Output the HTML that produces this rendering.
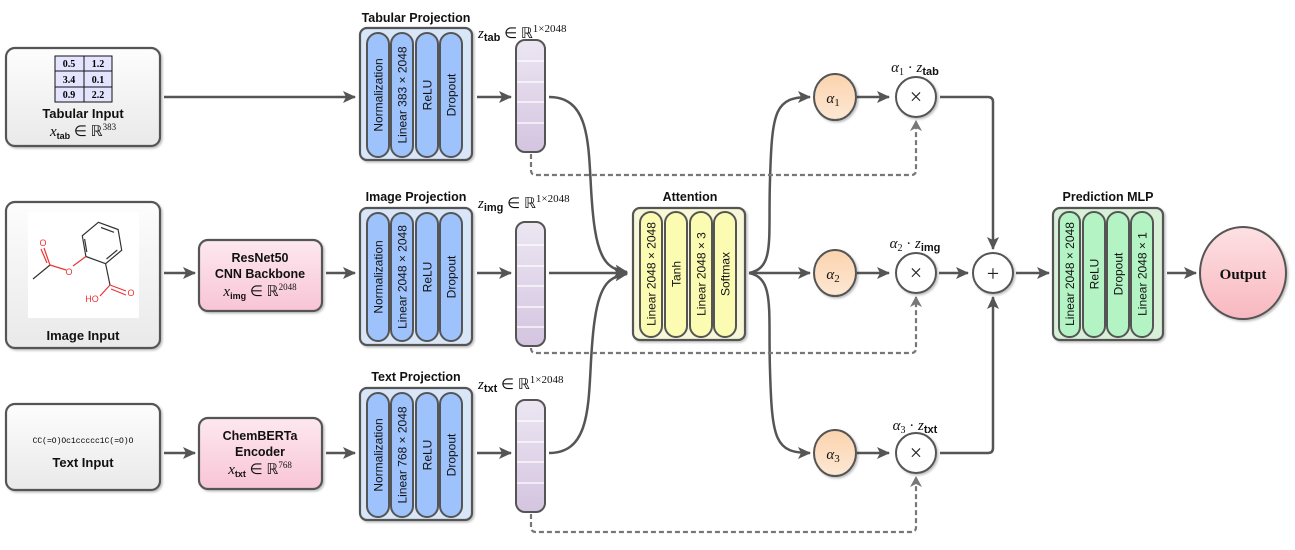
<!DOCTYPE html>
<html><head><meta charset="utf-8"><style>
html,body{margin:0;padding:0;background:#fff;}
svg{display:block;font-family:"Liberation Sans",sans-serif;}
.t{font-size:12.5px;font-weight:bold;text-anchor:middle;fill:#111}
.pl{font-size:12px;text-anchor:middle;fill:#111}
.m{font-family:"Liberation Serif",serif;font-size:15px;fill:#111}
</style></head><body>
<svg width="1295" height="550" viewBox="0 0 1295 550" xmlns="http://www.w3.org/2000/svg">
<defs>
<marker id="ah" markerWidth="14" markerHeight="12" refX="12" refY="6" orient="auto" markerUnits="userSpaceOnUse"><path d="M0,0 L13,6 L0,12 L3,6 Z" fill="#555"/></marker>
<marker id="ad" markerWidth="12" markerHeight="12" refX="10" refY="6" orient="auto" markerUnits="userSpaceOnUse"><path d="M0,0 L11,6 L0,12 L3,6 Z" fill="#777"/></marker>
<linearGradient id="gIn" x1="0" y1="0" x2="0" y2="1"><stop offset="0" stop-color="#fdfdfd"/><stop offset="1" stop-color="#e9e9e9"/></linearGradient>
<linearGradient id="gPk" x1="0" y1="0" x2="0" y2="1"><stop offset="0" stop-color="#fde8ef"/><stop offset="1" stop-color="#f8c4d6"/></linearGradient>
<linearGradient id="gV" x1="0" y1="0" x2="0" y2="1"><stop offset="0" stop-color="#ece6f2"/><stop offset="1" stop-color="#d4c4e0"/></linearGradient>
<linearGradient id="gO" x1="0" y1="0" x2="0" y2="1"><stop offset="0" stop-color="#fbd3ae"/><stop offset="1" stop-color="#fde8d4"/></linearGradient>
<linearGradient id="gOut" x1="0" y1="0" x2="0" y2="1"><stop offset="0" stop-color="#fde0e3"/><stop offset="1" stop-color="#f8b8bf"/></linearGradient>
<filter id="sh" x="-10%" y="-10%" width="130%" height="130%"><feDropShadow dx="1.5" dy="1.5" stdDeviation="1" flood-color="#000" flood-opacity="0.25"/></filter>
</defs>

<g stroke="#555" stroke-width="2.2" fill="none">
<rect x="6" y="48" width="154" height="98" rx="9" fill="url(#gIn)" filter="url(#sh)"/>
<rect x="6" y="202" width="154" height="146" rx="9" fill="url(#gIn)" filter="url(#sh)"/>
<rect x="6" y="404" width="154" height="86" rx="9" fill="url(#gIn)" filter="url(#sh)"/>
<rect x="199" y="240" width="123" height="71" rx="9" fill="url(#gPk)" filter="url(#sh)"/>
<rect x="199" y="418" width="123" height="71" rx="9" fill="url(#gPk)" filter="url(#sh)"/>
</g>
<rect x="28" y="212" width="111" height="106" fill="#fff"/>
<g font-family="Liberation Serif,serif" font-size="10" font-weight="bold" text-anchor="middle">
<rect x="55" y="56" width="57" height="46" fill="#e4e4ff" stroke="#111" stroke-width="1"/>
<line x1="55" y1="71" x2="112" y2="71" stroke="#111"/><line x1="55" y1="87" x2="112" y2="87" stroke="#111"/>
<line x1="84" y1="56" x2="84" y2="102" stroke="#111"/>
<text x="69" y="67">0.5</text><text x="98" y="67">1.2</text>
<text x="69" y="83">3.4</text><text x="98" y="83">0.1</text>
<text x="69" y="98">0.9</text><text x="98" y="98">2.2</text>
</g>
<text x="83" y="118" class="t" style="font-size:13px">Tabular Input</text>
<text x="83" y="136" class="m" text-anchor="middle" font-style="italic">x<tspan font-family="Liberation Sans" font-size="9" font-weight="bold" font-style="normal" dy="3">tab</tspan><tspan dy="-3" font-style="normal"> ∈ ℝ</tspan><tspan font-size="9" dy="-6" font-style="normal">383</tspan></text>
<!-- molecule -->
<g stroke="#333" stroke-width="1.2" fill="none">
<polygon points="98.4,222.3 118.1,229.5 121.7,250.2 105.6,263.7 85.9,256.5 82.3,235.8"/>
<line x1="101" y1="227.5" x2="114" y2="232.3"/><line x1="117.3" y1="250" x2="106.5" y2="259"/><line x1="86.8" y1="252" x2="84.6" y2="239"/>
<line x1="105.6" y1="263.7" x2="110" y2="285"/>
<line x1="50" y1="265" x2="33" y2="279"/>
</g>
<g stroke="#e33" stroke-width="1.2" fill="none">
<line x1="85.9" y1="256.5" x2="73" y2="266"/><line x1="66" y1="270" x2="50" y2="265"/>
<line x1="50" y1="265" x2="44" y2="248"/><line x1="47" y1="263" x2="41" y2="249"/>
<line x1="110" y1="285" x2="126" y2="291"/><line x1="111" y1="289" x2="126" y2="295"/>
<line x1="110" y1="285" x2="100" y2="296"/>
</g>
<g font-size="9" fill="#e33" text-anchor="middle"><text x="69" y="275">O</text><text x="43" y="246">O</text><text x="131" y="296">O</text><text x="92" y="302">HO</text></g>
<text x="83" y="340" class="t" style="font-size:13px">Image Input</text>
<text x="83" y="443" font-family="Liberation Mono,monospace" font-size="8" text-anchor="middle">CC(=O)Oc1ccccc1C(=O)O</text>
<text x="83" y="467" class="t" style="font-size:13px">Text Input</text>
<text x="260" y="262" class="t">ResNet50</text>
<text x="260" y="278" class="t">CNN Backbone</text>
<text x="260" y="296" class="m" text-anchor="middle" font-style="italic" font-size="13">x<tspan font-family="Liberation Sans" font-size="9" font-weight="bold" font-style="normal" dy="3">img</tspan><tspan dy="-3" font-style="normal"> ∈ ℝ</tspan><tspan font-size="9" dy="-6" font-style="normal">2048</tspan></text>
<text x="260" y="440" class="t">ChemBERTa</text>
<text x="260" y="456" class="t">Encoder</text>
<text x="260" y="474" class="m" text-anchor="middle" font-style="italic" font-size="13">x<tspan font-family="Liberation Sans" font-size="9" font-weight="bold" font-style="normal" dy="3">txt</tspan><tspan dy="-3" font-style="normal"> ∈ ℝ</tspan><tspan font-size="9" dy="-6" font-style="normal">768</tspan></text>

<g stroke="#555" stroke-width="2.2">
<rect x="360" y="28" width="112" height="132" rx="7" fill="#d8e6f8" filter="url(#sh)"/>
<rect x="360" y="208" width="112" height="137" rx="7" fill="#d8e6f8" filter="url(#sh)"/>
<rect x="360" y="388" width="112" height="132" rx="7" fill="#d8e6f8" filter="url(#sh)"/>
<rect x="633" y="208" width="112" height="132" rx="7" fill="#f8f8d8" filter="url(#sh)"/>
<rect x="1053" y="208" width="110" height="132" rx="7" fill="#d8f0d8" filter="url(#sh)"/>
</g>
<g stroke="#555" stroke-width="2" fill="#9ec2fb">
<rect x="367" y="33" width="22" height="124" rx="11"/><rect x="391" y="33" width="22" height="124" rx="11"/><rect x="416" y="33" width="22" height="124" rx="11"/><rect x="440" y="33" width="22" height="124" rx="11"/>
<rect x="367" y="213" width="22" height="128" rx="11"/><rect x="391" y="213" width="22" height="128" rx="11"/><rect x="416" y="213" width="22" height="128" rx="11"/><rect x="440" y="213" width="22" height="128" rx="11"/>
<rect x="367" y="393" width="22" height="124" rx="11"/><rect x="391" y="393" width="22" height="124" rx="11"/><rect x="416" y="393" width="22" height="124" rx="11"/><rect x="440" y="393" width="22" height="124" rx="11"/>
</g>
<g stroke="#555" stroke-width="2" fill="#fbfbb2">
<rect x="640" y="212" width="22" height="125" rx="11"/><rect x="665" y="212" width="22" height="125" rx="11"/><rect x="690" y="212" width="22" height="125" rx="11"/><rect x="714" y="212" width="22" height="125" rx="11"/>
</g>
<g stroke="#555" stroke-width="2" fill="#b4f4c4">
<rect x="1059" y="212" width="21" height="125" rx="10"/><rect x="1083" y="212" width="22" height="125" rx="11"/><rect x="1107" y="212" width="22" height="125" rx="11"/><rect x="1131" y="212" width="22" height="125" rx="11"/>
</g>
<g class="pl">
<text transform="translate(382.5,95) rotate(-90)">Normalization</text>
<text transform="translate(406.5,95) rotate(-90)">Linear 383 × 2048</text>
<text transform="translate(431.5,95) rotate(-90)">ReLU</text>
<text transform="translate(455.5,95) rotate(-90)">Dropout</text>
<text transform="translate(382.5,277) rotate(-90)">Normalization</text>
<text transform="translate(406.5,277) rotate(-90)">Linear 2048 × 2048</text>
<text transform="translate(431.5,277) rotate(-90)">ReLU</text>
<text transform="translate(455.5,277) rotate(-90)">Dropout</text>
<text transform="translate(382.5,455) rotate(-90)">Normalization</text>
<text transform="translate(406.5,455) rotate(-90)">Linear 768 × 2048</text>
<text transform="translate(431.5,455) rotate(-90)">ReLU</text>
<text transform="translate(455.5,455) rotate(-90)">Dropout</text>
<text transform="translate(655.5,274) rotate(-90)">Linear 2048 × 2048</text>
<text transform="translate(680.5,274) rotate(-90)">Tanh</text>
<text transform="translate(705.5,274) rotate(-90)">Linear 2048 × 3</text>
<text transform="translate(729.5,274) rotate(-90)">Softmax</text>
<text transform="translate(1074,274) rotate(-90)">Linear 2048 × 2048</text>
<text transform="translate(1098.5,274) rotate(-90)">ReLU</text>
<text transform="translate(1122.5,274) rotate(-90)">Dropout</text>
<text transform="translate(1146.5,274) rotate(-90)">Linear 2048 × 1</text>
</g>
<text x="416" y="22" class="t">Tabular Projection</text>
<text x="416" y="201" class="t">Image Projection</text>
<text x="416" y="381" class="t">Text Projection</text>
<text x="690" y="201" class="t">Attention</text>
<text x="1108" y="201" class="t">Prediction MLP</text>

<g stroke="#555" stroke-width="2" fill="url(#gV)">
<rect x="516" y="40" width="29" height="112" rx="9"/>
<rect x="516" y="222" width="29" height="124" rx="9"/>
<rect x="516" y="400" width="29" height="112" rx="9"/>
</g>
<g stroke="#fff" stroke-width="1.2">
<line x1="517" y1="61" x2="544" y2="61"/><line x1="517" y1="82" x2="544" y2="82"/><line x1="517" y1="102" x2="544" y2="102"/><line x1="517" y1="123" x2="544" y2="123"/>
<line x1="517" y1="245" x2="544" y2="245"/><line x1="517" y1="266" x2="544" y2="266"/><line x1="517" y1="286" x2="544" y2="286"/><line x1="517" y1="307" x2="544" y2="307"/><line x1="517" y1="327" x2="544" y2="327"/>
<line x1="517" y1="421" x2="544" y2="421"/><line x1="517" y1="442" x2="544" y2="442"/><line x1="517" y1="462" x2="544" y2="462"/><line x1="517" y1="483" x2="544" y2="483"/>
</g>
<g class="m" font-style="italic" font-size="16">
<text x="478" y="38">z<tspan font-family="Liberation Sans" font-size="11" font-weight="bold" font-style="normal" dy="3">tab</tspan><tspan dy="-3" font-style="normal"> ∈ ℝ</tspan><tspan font-size="11" dy="-6" font-style="normal">1×2048</tspan></text>
<text x="478" y="208">z<tspan font-family="Liberation Sans" font-size="11" font-weight="bold" font-style="normal" dy="3">img</tspan><tspan dy="-3" font-style="normal"> ∈ ℝ</tspan><tspan font-size="11" dy="-6" font-style="normal">1×2048</tspan></text>
<text x="478" y="389">z<tspan font-family="Liberation Sans" font-size="11" font-weight="bold" font-style="normal" dy="3">txt</tspan><tspan dy="-3" font-style="normal"> ∈ ℝ</tspan><tspan font-size="11" dy="-6" font-style="normal">1×2048</tspan></text>
</g>

<g stroke="#555" stroke-width="2.5" fill="none" marker-end="url(#ah)">
<line x1="164" y1="97" x2="355" y2="97"/>
<line x1="164" y1="273" x2="195" y2="273"/>
<line x1="326" y1="273" x2="355" y2="273"/>
<line x1="164" y1="453" x2="195" y2="453"/>
<line x1="326" y1="453" x2="355" y2="453"/>
<line x1="477" y1="97" x2="511" y2="97"/>
<line x1="477" y1="273" x2="511" y2="273"/>
<line x1="477" y1="453" x2="511" y2="453"/>
<path d="M549,97 C600,97 585,170 595,230 C600,262 610,270 627,272"/>
<line x1="549" y1="273" x2="627" y2="273"/>
<path d="M549,453 C600,453 585,380 595,318 C600,284 610,276 627,274"/>
<path d="M749,273 C775,268 768,240 770,180 C772,110 775,97 810,97"/>
<line x1="749" y1="273" x2="810" y2="273"/>
<path d="M749,273 C775,278 768,310 770,370 C772,440 775,453 810,453"/>
<line x1="857" y1="97" x2="889" y2="97"/>
<line x1="857" y1="273" x2="889" y2="273"/>
<line x1="857" y1="453" x2="889" y2="453"/>
<line x1="939" y1="273" x2="968" y2="273"/>
<path d="M940,97 L988,97 Q993,97 993,102 L993,249"/>
<path d="M940,453 L988,453 Q993,453 993,448 L993,297"/>
<line x1="1016" y1="273" x2="1049" y2="273"/>
<line x1="1167" y1="273" x2="1196" y2="273"/>
</g>
<g stroke="#777" stroke-width="2.2" stroke-dasharray="5,3" fill="none" marker-end="url(#ad)">
<path d="M531,154 L531,170 Q531,175 536,175 L911,175 Q916,175 916,170 L916,121"/>
<path d="M531,348 Q531,353 536,353 L911,353 Q916,353 916,348 L916,297"/>
<path d="M531,514 L531,527 Q531,532 536,532 L911,532 Q916,532 916,527 L916,477"/>
</g>

<g stroke="#555" stroke-width="2" filter="url(#sh)">
<ellipse cx="835" cy="97" rx="21" ry="23" fill="url(#gO)"/>
<ellipse cx="835" cy="273" rx="21" ry="23" fill="url(#gO)"/>
<ellipse cx="835" cy="453" rx="21" ry="23" fill="url(#gO)"/>
<circle cx="916" cy="97" r="20" fill="#fff"/>
<circle cx="916" cy="273" r="20" fill="#fff"/>
<circle cx="916" cy="453" r="20" fill="#fff"/>
<circle cx="993" cy="273" r="20" fill="#fff"/>
<ellipse cx="1243" cy="273" rx="43" ry="46" fill="url(#gOut)"/>
</g>
<g class="m" font-style="italic" text-anchor="middle" font-size="18">
<text x="833" y="103">α<tspan font-size="11" font-style="normal" dy="3">1</tspan></text>
<text x="833" y="279">α<tspan font-size="11" font-style="normal" dy="3">2</tspan></text>
<text x="833" y="459">α<tspan font-size="11" font-style="normal" dy="3">3</tspan></text>
</g>
<g font-family="Liberation Serif,serif" font-size="22" text-anchor="middle" fill="#222">
<text x="916" y="104">×</text><text x="916" y="280">×</text><text x="916" y="460">×</text><text x="993" y="281">+</text>
</g>
<g class="m" font-style="italic" text-anchor="middle" font-size="16">
<text x="915" y="72">α<tspan font-size="10" font-style="normal" dy="3">1</tspan><tspan dy="-3" font-style="normal"> · </tspan>z<tspan font-family="Liberation Sans" font-size="11" font-weight="bold" font-style="normal" dy="3">tab</tspan></text>
<text x="915" y="248">α<tspan font-size="10" font-style="normal" dy="3">2</tspan><tspan dy="-3" font-style="normal"> · </tspan>z<tspan font-family="Liberation Sans" font-size="11" font-weight="bold" font-style="normal" dy="3">img</tspan></text>
<text x="915" y="430">α<tspan font-size="10" font-style="normal" dy="3">3</tspan><tspan dy="-3" font-style="normal"> · </tspan>z<tspan font-family="Liberation Sans" font-size="11" font-weight="bold" font-style="normal" dy="3">txt</tspan></text>
</g>
<text x="1243" y="279" font-family="Liberation Serif,serif" font-size="15" font-weight="bold" text-anchor="middle" fill="#111">Output</text>
</svg>
</body></html>
